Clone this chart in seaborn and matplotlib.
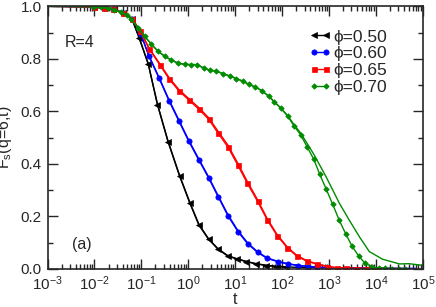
import matplotlib

matplotlib.use("Agg")

import matplotlib.pyplot as plt
import matplotlib.ticker as mticker
import numpy as np
import pandas as pd
import seaborn as sns

# phi = 0.50 (black)
t_050_line = [1e-3, 0.01, 0.02, 0.04, 0.065, 0.089, 0.14, 0.22, 0.37, 0.65, 1.07, 1.68, 2.7, 4.3,
              6.9, 10.8, 17, 28, 46, 75, 120, 200, 1000, 1e4, 7e4]
f_050_line = [1.0, 0.997, 0.99, 0.978, 0.95, 0.882, 0.782, 0.628, 0.487, 0.357, 0.255, 0.17, 0.115,
              0.077, 0.051, 0.039, 0.029, 0.02, 0.014, 0.01, 0.008, 0.006, 0.004, 0.002, 0.001]
t_050_pts = [0.01, 0.016, 0.025, 0.04, 0.063, 0.089, 0.14, 0.22, 0.37, 0.65, 1.07, 1.68, 2.7, 4.3,
             6.9, 10.8, 17, 28, 46, 75, 120]
f_050_pts = [0.999, 0.995, 0.988, 0.975, 0.95, 0.881, 0.78, 0.625, 0.484, 0.354, 0.252, 0.167, 0.113,
             0.075, 0.049, 0.038, 0.028, 0.019, 0.013, 0.009, 0.007]

# phi = 0.60 (blue)
t_060_line = [1e-3, 0.01, 0.02, 0.04, 0.065, 0.095, 0.145, 0.237, 0.386, 0.63, 1.01, 1.66, 2.7, 4.35,
              6.97, 11.4, 18.6, 30, 48, 80, 132, 214, 350, 545, 890, 3000, 1e4, 7e4]
f_060_line = [1.0, 0.997, 0.99, 0.978, 0.952, 0.9, 0.812, 0.73, 0.645, 0.567, 0.492, 0.42, 0.351, 0.278,
              0.207, 0.146, 0.098, 0.065, 0.042, 0.029, 0.02, 0.014, 0.01, 0.007, 0.005, 0.004, 0.003, 0.002]
t_060_pts = [0.01, 0.016, 0.025, 0.04, 0.063, 0.095, 0.145, 0.237, 0.386, 0.63, 1.01, 1.66, 2.7, 4.35,
             6.97, 11.4, 18.6, 30, 48, 80, 132, 214, 350, 545, 890]
f_060_pts = [0.999, 0.995, 0.988, 0.975, 0.95, 0.9, 0.81, 0.727, 0.641, 0.563, 0.488, 0.416, 0.347, 0.274,
             0.203, 0.142, 0.095, 0.063, 0.04, 0.028, 0.019, 0.013, 0.009, 0.006, 0.005]

# phi = 0.65 (red)
t_065_line = [1e-3, 0.01, 0.02, 0.04, 0.065, 0.095, 0.147, 0.245, 0.395, 0.63, 1.03, 1.68, 2.74, 4.27,
              7, 11.2, 18, 30, 48.6, 78, 128, 204, 331, 555, 906, 1450, 3000, 1e4, 5e4]
f_065_line = [1.0, 0.997, 0.99, 0.978, 0.952, 0.905, 0.84, 0.782, 0.727, 0.683, 0.648, 0.614, 0.575, 0.525,
              0.471, 0.404, 0.334, 0.263, 0.19, 0.131, 0.084, 0.052, 0.032, 0.019, 0.01, 0.005, 0.003, 0.002, 0.001]
t_065_pts = [0.01, 0.016, 0.025, 0.04, 0.063, 0.095, 0.147, 0.245, 0.395, 0.63, 1.03, 1.68, 2.74, 4.27,
             7, 11.2, 18, 30, 48.6, 78, 128, 204, 331, 555, 906, 1450, 2300, 3700, 6100, 1e4]
f_065_pts = [0.999, 0.995, 0.988, 0.975, 0.95, 0.905, 0.838, 0.778, 0.722, 0.678, 0.643, 0.608, 0.569, 0.518,
             0.464, 0.397, 0.327, 0.257, 0.185, 0.127, 0.081, 0.049, 0.03, 0.018, 0.009, 0.004, 0.002, 0.001,
             0.0, 0.0]

# phi = 0.70 (green)
t_070_line = [1e-3, 0.01, 0.02, 0.036, 0.05, 0.0847, 0.117, 0.163, 0.225, 0.313, 0.435, 0.6, 0.834, 1.16,
              1.52, 2.12, 2.84, 3.94, 5.45, 7.56, 10.5, 14.5, 19.5, 27, 37.5, 52, 68.5, 95, 132, 180, 249,
              340, 471, 863, 1660, 2690, 4410, 7200, 13800, 31600, 50000, 85000, 1e5]
f_070_line = [1.0, 0.998, 0.992, 0.978, 0.966, 0.919, 0.886, 0.856, 0.829, 0.81, 0.795, 0.784, 0.779, 0.778,
              0.778, 0.765, 0.757, 0.753, 0.744, 0.735, 0.725, 0.715, 0.703, 0.692, 0.678, 0.657, 0.636, 0.611,
              0.583, 0.549, 0.517, 0.478, 0.437, 0.351, 0.25, 0.186, 0.123, 0.066, 0.037, 0.019, 0.02, 0.015,
              0.014]
t_070_pts = [0.01, 0.0138, 0.019, 0.026, 0.036, 0.05, 0.0615, 0.0847, 0.117, 0.163, 0.225, 0.313, 0.435,
             0.6, 0.834, 1.16, 1.52, 2.12, 2.84, 3.94, 5.45, 7.56, 10.5, 14.5, 19.5, 27, 37.5, 52, 68.5, 95,
             132, 180, 249, 340, 471, 631, 863, 1195, 1633, 2256, 3090, 4265, 5830, 8220, 11400, 15800,
             21900, 30200, 40700]
f_070_pts = [0.999, 0.997, 0.993, 0.987, 0.978, 0.966, 0.95, 0.919, 0.886, 0.856, 0.829, 0.81, 0.795,
             0.784, 0.779, 0.778, 0.778, 0.765, 0.757, 0.753, 0.744, 0.735, 0.725, 0.715, 0.703, 0.692, 0.678,
             0.657, 0.636, 0.611, 0.581, 0.544, 0.51, 0.465, 0.418, 0.361, 0.305, 0.246, 0.187, 0.134, 0.087,
             0.049, 0.022, 0.008, 0.003, 0.002, 0.001, 0.001, 0.0]

labels = ["ϕ=0.50", "ϕ=0.60", "ϕ=0.65", "ϕ=0.70"]

sns.set_style("ticks")
plt.rcParams["font.family"] = ["Liberation Sans", "DejaVu Sans"]
plt.rcParams["mathtext.fontset"] = "custom"
plt.rcParams["mathtext.rm"] = "Liberation Sans"
plt.rcParams["mathtext.it"] = "Liberation Sans"

series = [
    (t_050_line, f_050_line, t_050_pts, f_050_pts, "#000000", "<", 4.2),
    (t_060_line, f_060_line, t_060_pts, f_060_pts, "#0000ff", "o", 3.8),
    (t_065_line, f_065_line, t_065_pts, f_065_pts, "#ff0000", "s", 3.6),
    (t_070_line, f_070_line, t_070_pts, f_070_pts, "#008b00", "D", 2.8),
]

fig = plt.figure(figsize=(4.36, 3.07), dpi=100)
ax = fig.add_axes([0.109, 0.124, 0.861, 0.8555])

for (tl, fl, tp, fp, color, marker, ms), label in zip(series, labels):
    line_df = pd.DataFrame({"t": tl, "F": fl})
    pts_df = pd.DataFrame({"t": tp, "F": fp})
    sns.lineplot(data=line_df, x="t", y="F", ax=ax, color=color, linewidth=1.0,
                 estimator=None, sort=False, legend=False)
    sns.lineplot(data=pts_df, x="t", y="F", ax=ax, color=color, linewidth=1.0, marker=marker,
                 markersize=ms, markeredgewidth=0.5, markeredgecolor=color,
                 estimator=None, sort=False, label=label)


def decade_label(x, pos):
    return "10$^{%d}$" % int(round(np.log10(x)))


ax.set_xscale("log")
ax.set_xlim(1e-3, 1e5)
ax.set_ylim(0.0, 1.0)
ax.xaxis.set_major_locator(mticker.LogLocator(base=10, numticks=20))
ax.xaxis.set_major_formatter(mticker.FuncFormatter(decade_label))
ax.xaxis.set_minor_locator(mticker.LogLocator(base=10, subs=np.arange(2, 10), numticks=20))
ax.xaxis.set_minor_formatter(mticker.NullFormatter())
ax.yaxis.set_major_locator(mticker.MultipleLocator(0.2))
ax.yaxis.set_minor_locator(mticker.MultipleLocator(0.1))
ax.yaxis.set_major_formatter(mticker.FormatStrFormatter("%.1f"))

ax.tick_params(which="both", direction="in", top=True, right=True, width=1.0)
ax.tick_params(axis="both", labelsize=11)
ax.tick_params(which="major", length=7, pad=4)
ax.tick_params(which="minor", length=3.5)
for spine in ax.spines.values():
    spine.set_linewidth(1.2)

ax.set_xlabel("t", fontsize=11.5)
ax.xaxis.set_label_coords(0.5, -0.088)
ax.set_ylabel("F$_\\mathregular{s}$(q=6,t)", fontsize=11.5)
ax.yaxis.set_label_coords(-0.09, 0.5)

ax.text(0.046, 0.845, "R=4", transform=ax.transAxes, fontsize=11.5)
ax.text(0.065, 0.075, "(a)", transform=ax.transAxes, fontsize=11.5)

leg = ax.legend(loc="upper right", bbox_to_anchor=(0.905, 0.912), frameon=False, fontsize=12.5,
                numpoints=2, handlelength=1.3, handletextpad=0.15, labelspacing=0.1,
                borderaxespad=0.0, borderpad=0.0)

fig.savefig("out.png", dpi=100)
